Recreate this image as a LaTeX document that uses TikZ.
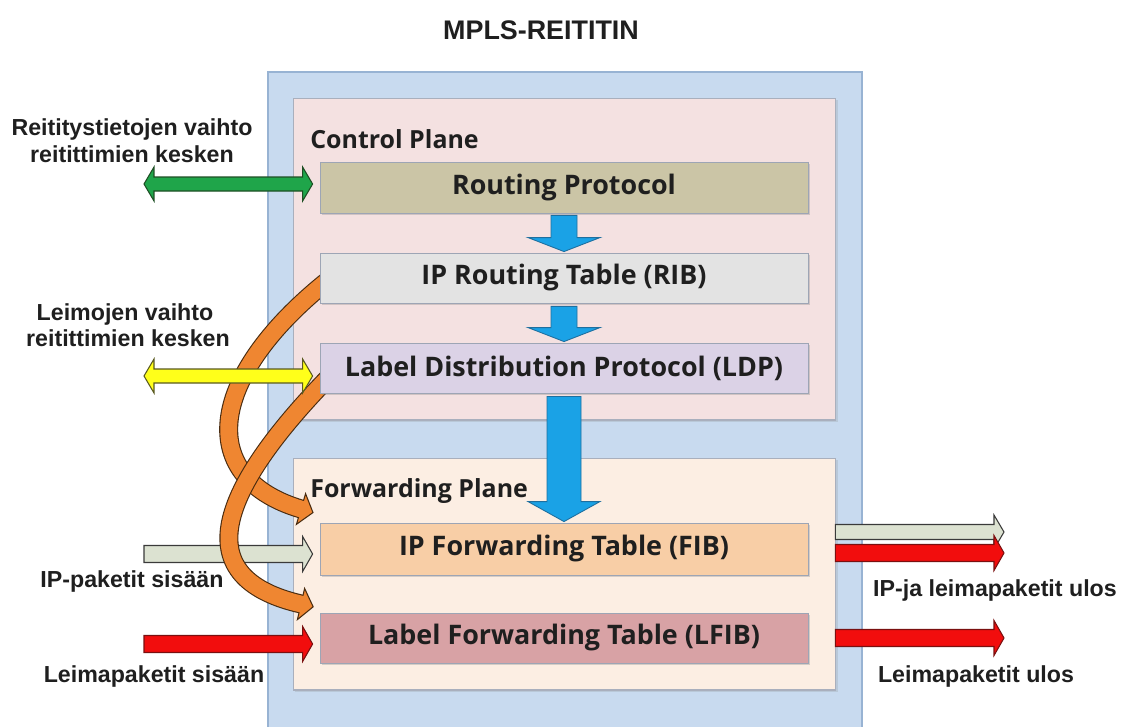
\documentclass[tikz,border=0pt]{standalone}
\usepackage{fontspec}
\setmainfont{Liberation Sans}
\newfontfamily\boxfont{Open Sans}
\usetikzlibrary{calc,shadows}
\pgfdeclarelayer{planes}
\pgfdeclarelayer{bends}
\pgfsetlayers{planes,bends,main}

\definecolor{txt}{HTML}{1F1F1F}
\definecolor{outerfill}{HTML}{C8DAEF}
\definecolor{outerline}{HTML}{98B3D3}
\definecolor{cpfill}{HTML}{F4E1E1}
\definecolor{fpfill}{HTML}{FCEEE3}
\definecolor{planeline}{HTML}{A9AFBD}
\definecolor{rpfill}{HTML}{CBC5A6}
\definecolor{ribfill}{HTML}{E3E3E3}
\definecolor{ldpfill}{HTML}{DBD2E6}
\definecolor{fibfill}{HTML}{F8CEA6}
\definecolor{lfibfill}{HTML}{D8A2A5}
\definecolor{boxline}{HTML}{9DA5B5}
\definecolor{bluefill}{HTML}{1AA2E6}
\definecolor{blueline}{HTML}{1E6F9F}
\definecolor{greenfill}{HTML}{1FA54A}
\definecolor{greenline}{HTML}{1E4F24}
\definecolor{yellowfill}{HTML}{FFFF1A}
\definecolor{yellowline}{HTML}{5A5A20}
\definecolor{grayfill}{HTML}{DCE2D1}
\definecolor{grayline}{HTML}{3A3A3A}
\definecolor{redfill}{HTML}{F20D0D}
\definecolor{redline}{HTML}{7A1010}
\definecolor{orangefill}{HTML}{EF8631}
\definecolor{orangeline}{HTML}{4A2C10}

\newcommand\titlefont{\fontsize{15.3}{18}\selectfont\bfseries}
\newcommand\lblfont{\fontsize{13.2}{16}\selectfont\bfseries}
\newcommand\tabfont{\fontsize{15.3}{18}\selectfont\boxfont\bfseries}
\newcommand\planefont{\fontsize{14.2}{17}\selectfont\boxfont\bfseries}

% straight block arrow: style, tail, tip, half shaft, half head, head length
\newcommand\blockarrow[6]{%
  \coordinate (bb) at ($(#3)!#6!(#2)$);
  \filldraw[#1] ($(#2)!#4!90:(#3)$) -- ($(bb)!#4!-90:(#2)$) -- ($(bb)!#5!-90:(#2)$) -- (#3)
    -- ($(bb)!#5!90:(#2)$) -- ($(bb)!#4!90:(#2)$) -- ($(#2)!#4!-90:(#3)$) -- cycle;}
% two-headed block arrow
\newcommand\blockarrowboth[6]{%
  \coordinate (ba) at ($(#2)!#6!(#3)$);
  \coordinate (bb) at ($(#3)!#6!(#2)$);
  \filldraw[#1] (#2) -- ($(ba)!#5!90:(#3)$) -- ($(ba)!#4!90:(#3)$) -- ($(bb)!#4!-90:(#2)$)
    -- ($(bb)!#5!-90:(#2)$) -- (#3) -- ($(bb)!#5!90:(#2)$) -- ($(bb)!#4!90:(#2)$)
    -- ($(ba)!#4!-90:(#3)$) -- ($(ba)!#5!-90:(#3)$) -- cycle;}
% curved band arrow: start, control 1, control 2, head base, half head, head length
\newcommand\bentarrow[6]{%
  \draw[line width=0.38cm, draw=orangeline] (#1) .. controls (#2) and (#3) .. (#4);
  \filldraw[fill=orangefill, draw=orangeline, line width=0.6pt, line join=miter]
    ($(#4)!#5!90:(#3)$) -- ($(#4)!#6!180:(#3)$) -- ($(#4)!#5!-90:(#3)$) -- cycle;
  \draw[line width=0.335cm, draw=orangefill] (#1) .. controls (#2) and (#3) .. (#4) -- ($(#4)!0.06cm!180:(#3)$);}

\begin{document}
\begin{tikzpicture}[x=0.02cm,y=-0.02cm,
  tbox/.style={draw=boxline, line width=0.5pt, inner sep=0pt, font=\tabfont, text=txt,
    minimum width=9.76cm, minimum height=1cm,
    drop shadow={shadow xshift=0.9pt, shadow yshift=-1.3pt, opacity=0.3}},
  plane/.style={draw=planeline, line width=0.6pt, inner sep=0pt, minimum width=10.86cm,
    drop shadow={shadow xshift=0.9pt, shadow yshift=-1.3pt, opacity=0.2}},
  lbl/.style={font=\lblfont, text=txt, inner sep=0pt, anchor=base},
  ptitle/.style={font=\planefont, text=txt, inner sep=0pt, anchor=base west},
  bluearrow/.style={fill=bluefill, draw=blueline, line width=0.5pt},
  greenarrow/.style={fill=greenfill, draw=greenline, line width=0.6pt},
  yellowarrow/.style={fill=yellowfill, draw=yellowline, line width=0.6pt},
  grayarrow/.style={fill=grayfill, draw=grayline, line width=0.6pt},
  redarrow/.style={fill=redfill, draw=redline, line width=0.6pt},
]
\clip (0,0) rectangle (1123,727);

% router frame and the two planes
\begin{pgfonlayer}{planes}
\fill[white] (0,0) rectangle (1123,727);
\node[draw=outerline, fill=outerfill, line width=0.8pt, inner sep=0pt,
  minimum width=11.88cm, minimum height=13.46cm] (router) at (565,408.5) {};
\node[plane, fill=cpfill, minimum height=6.44cm] (cp) at (564.5,259) {};
\node[plane, fill=fpfill, minimum height=4.64cm] (fp) at (564.5,574) {};
\end{pgfonlayer}

\node[font=\titlefont, text=txt, anchor=base, inner sep=0pt] (title) at (541,39) {MPLS-REITITIN};
\node[ptitle] (cpt) at (310,148) {Control Plane};
\node[ptitle] (fpt) at (310,497) {Forwarding Plane};

% tables
\node[tbox, fill=rpfill, minimum height=1.02cm] (rp) at (564,187.5) {Routing Protocol};
\node[tbox, fill=ribfill] (rib) at (564,278) {IP Routing Table (RIB)};
\node[tbox, fill=ldpfill] (ldp) at (564,368) {Label Distribution Protocol (LDP)};
\node[tbox, fill=fibfill, minimum height=1.04cm] (fib) at (564,549) {IP Forwarding Table (FIB)};
\node[tbox, fill=lfibfill] (lfib) at (564,638) {Label Forwarding Table (LFIB)};

% side labels
\node[lbl] (rt1) at (132,135) {Reititystietojen vaihto};
\node[lbl] (rt2) at (132,162) {reitittimien kesken};
\node[lbl] (lv1) at (125,320) {Leimojen vaihto};
\node[lbl] (lv2) at (128,346) {reitittimien kesken};
\node[lbl] (ipin) at (132,587) {IP-paketit sisään};
\node[lbl] (lpin) at (154,682) {Leimapaketit sisään};
\node[lbl] (ipout) at (995,596) {IP-ja leimapaketit ulos};
\node[lbl] (lpout) at (976,682) {Leimapaketit ulos};

% flow inside the router
\coordinate (b1s) at ($(rp.south)+(0,2)$);
\coordinate (b1t) at ($(rib.north)+(0,-1)$);
\coordinate (b2s) at ($(rib.south)+(0,3)$);
\coordinate (b2t) at ($(ldp.north)+(0,-1)$);
\coordinate (b3s) at ($(ldp.south)+(0,3)$);
\coordinate (b3t) at ($(fib.north)+(0,-1)$);
\blockarrow{bluearrow}{b1s}{b1t}{0.26cm}{0.72cm}{0.28cm}
\blockarrow{bluearrow}{b2s}{b2t}{0.26cm}{0.72cm}{0.28cm}
\blockarrow{bluearrow}{b3s}{b3t}{0.34cm}{0.72cm}{0.4cm}

% tables copied into the forwarding plane
\begin{pgfonlayer}{bends}
\coordinate (o1s) at (326,282);
\coordinate (o1a) at (205,380);
\coordinate (o1b) at (197,478);
\coordinate (o1e) at (301,509);
\bentarrow{o1s}{o1a}{o1b}{o1e}{0.32cm}{0.25cm}
\coordinate (o2s) at (328,378);
\coordinate (o2a) at (205,505);
\coordinate (o2b) at (197,580);
\coordinate (o2e) at (301,604);
\bentarrow{o2s}{o2a}{o2b}{o2e}{0.32cm}{0.25cm}
\end{pgfonlayer}

% packets entering
\begin{pgfonlayer}{planes}
\coordinate (gin-s) at (144,554);
\coordinate (gin-t) at ($(fib.west)+(-7,5)$);
\blockarrow{grayarrow}{gin-s}{gin-t}{0.17cm}{0.35cm}{0.2cm}
\end{pgfonlayer}
\coordinate (rin-s) at (144,644);
\coordinate (rin-t) at ($(lfib.west)+(-7,6)$);
\blockarrow{redarrow}{rin-s}{rin-t}{0.17cm}{0.35cm}{0.2cm}

% exchanges with neighbouring routers
\coordinate (gx-s) at (144,184);
\coordinate (gx-t) at ($(rp.west)+(-7,-3.5)$);
\blockarrowboth{greenarrow}{gx-s}{gx-t}{0.14cm}{0.34cm}{0.2cm}
\coordinate (yx-s) at (144,376);
\coordinate (yx-t) at ($(ldp.west)+(-7,8)$);
\blockarrowboth{yellowarrow}{yx-s}{yx-t}{0.14cm}{0.34cm}{0.2cm}

% packets leaving
\coordinate (gout-s) at ($(fib.east)+(27,-17)$);
\coordinate (gout-t) at (1004,532);
\blockarrow{grayarrow}{gout-s}{gout-t}{0.15cm}{0.34cm}{0.2cm}
\coordinate (rout-s) at ($(fib.east)+(27,4)$);
\coordinate (rout-t) at (1004,553);
\blockarrow{redarrow}{rout-s}{rout-t}{0.17cm}{0.35cm}{0.2cm}
\coordinate (lout-s) at ($(lfib.east)+(27,0)$);
\coordinate (lout-t) at (1004,638);
\blockarrow{redarrow}{lout-s}{lout-t}{0.17cm}{0.35cm}{0.2cm}
\end{tikzpicture}
\end{document}
